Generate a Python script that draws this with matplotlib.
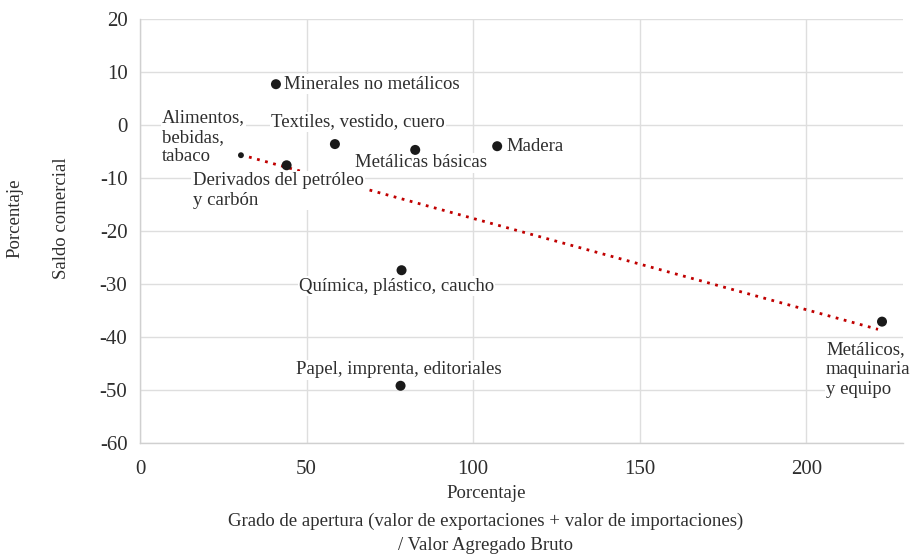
import numpy as np
import matplotlib
matplotlib.use("Agg")
import matplotlib.pyplot as plt

# ---- data ----
sectors = [
    "Minerales no metálicos",
    "Textiles, vestido, cuero",
    "Metálicas básicas",
    "Madera",
    "Alimentos,\nbebidas,\ntabaco",
    "Derivados del petróleo\ny carbón",
    "Química, plástico, caucho",
    "Papel, imprenta, editoriales",
    "Metálicos,\nmaquinaria\ny equipo",
]
apertura = [40.8, 58.5, 82.6, 107.2, 30.3, 44.0, 78.5, 78.2, 222.7]
saldo = [7.7, -3.6, -4.7, -4.0, -5.7, -7.6, -27.4, -49.2, -37.1]

x_ticks = [0, 50, 100, 150, 200]
y_ticks = [20, 10, 0, -10, -20, -30, -40, -50, -60]

# ---- label layout (pixel offsets from each point, alignment) ----
label_layout = [
    ((8, 0), "left", "center"),
    ((23, 22), "center", "center"),
    ((6, -13), "center", "center"),
    ((9, 0), "left", "center"),
    ((-79, 18), "left", "center"),
    ((-94, -25), "left", "center"),
    ((-5, -16), "center", "center"),
    ((-2, 16), "center", "center"),
    ((-56, -48), "left", "center"),
]
small_point = 4  # Alimentos drawn as small dot

plt.rcParams["font.family"] = ["Liberation Serif", "DejaVu Serif"]
TXT = "#2e2e2e"
FS = 13.5
TFS = 15

fig = plt.figure(figsize=(9.15, 5.57), dpi=100)
ax = fig.add_axes([140 / 915, 1 - 443 / 557, (903 - 140) / 915, (443 - 19) / 557])

ax.set_xlim(0, 229)
ax.set_ylim(-60, 20)
ax.set_xticks(x_ticks)
ax.set_yticks(y_ticks)
ax.set_xticklabels([str(t) for t in x_ticks])
ax.set_yticklabels([str(t) for t in y_ticks])
ax.tick_params(length=0, labelsize=TFS, colors=TXT)
ax.tick_params(axis="x", pad=12)
ax.tick_params(axis="y", pad=9)
ax.grid(True, color="#dedede", linewidth=1)
ax.set_axisbelow(True)
for s in ["top", "right"]:
    ax.spines[s].set_visible(False)
for s in ["left", "bottom"]:
    ax.spines[s].set_color("#d0d0d0")
    ax.spines[s].set_linewidth(1)

# trend line
xs = np.array(apertura)
ys = np.array(saldo)
m, b = np.polyfit(xs, ys, 1)
xl = np.array([xs.min(), xs.max() - 1.2])
ax.plot(xl, m * xl + b, color="#c00000", linestyle=(0, (1, 2)), linewidth=2, zorder=3)

sizes = [52] * len(xs)
sizes[small_point] = 18
ax.scatter(xs, ys, s=sizes, color="#1a1a1a", zorder=6, linewidths=0)

for i, name in enumerate(sectors):
    (dx, dy), ha, va = label_layout[i]
    ax.annotate(name, (xs[i], ys[i]), xytext=(dx, dy), textcoords="offset pixels",
                ha=ha, va=va, fontsize=FS, color=TXT, zorder=5, linespacing=1.2,
                bbox=dict(facecolor="white", edgecolor="none", pad=1.0))

# axis titles
fig.text(15 / 915, 1 - 218 / 557, "Porcentaje", rotation=90, ha="center", va="center",
         fontsize=FS, color=TXT)
fig.text(62 / 915, 1 - 218 / 557, "Saldo comercial", rotation=90, ha="center", va="center",
         fontsize=FS, color=TXT)
fig.text(486 / 915, 1 - 494 / 557, "Porcentaje", ha="center", va="center", fontsize=FS, color=TXT)
fig.text(486 / 915, 1 - 521 / 557,
         "Grado de apertura (valor de exportaciones + valor de importaciones)",
         ha="center", va="center", fontsize=FS, color=TXT)
fig.text(486 / 915, 1 - 545 / 557, "/ Valor Agregado Bruto", ha="center", va="center",
         fontsize=FS, color=TXT)

fig.savefig("out.png", dpi=100, facecolor="white")
